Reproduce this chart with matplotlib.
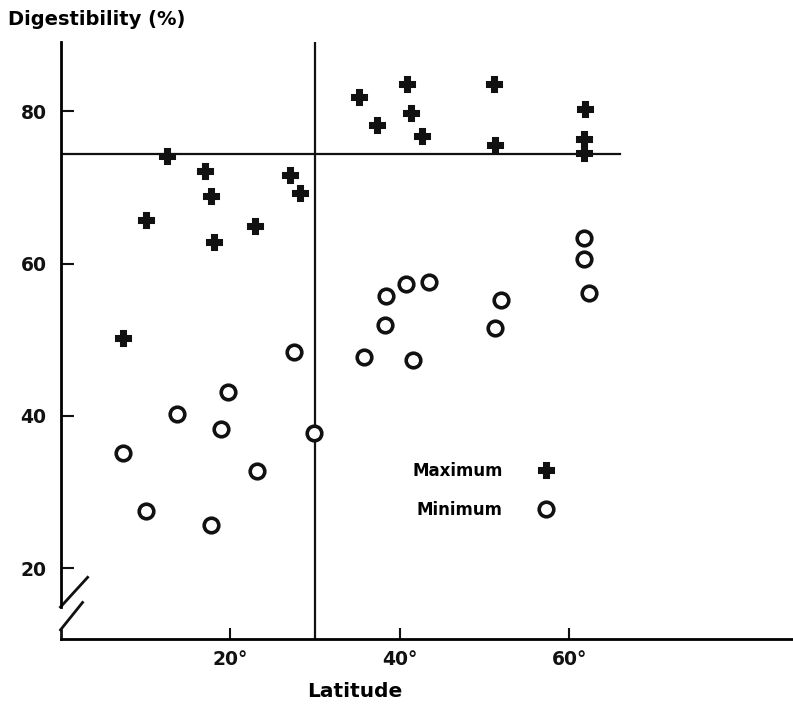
import numpy as np
import matplotlib
matplotlib.use("Agg")
import matplotlib.pyplot as plt

# --- dados ---
# latitude (graus) e digestibilidade (%) - valores máximos
lat_max = [12.6, 17.1, 17.8, 10.1, 18.1, 27.1, 28.3, 23.0, 7.4,
           35.2, 37.3, 40.9, 41.3, 42.6, 51.1, 51.2, 61.9, 61.7, 61.7]
dig_max = [74.1, 72.1, 68.9, 65.7, 62.8, 71.6, 69.3, 64.9, 50.2,
           81.9, 78.2, 83.6, 79.8, 76.7, 83.6, 75.6, 80.3, 76.4, 74.5]

# valores mínimos
lat_min = [27.6, 19.7, 13.7, 18.9, 29.9, 7.4, 23.2, 10.1, 17.8,
           61.7, 61.8, 62.3, 40.7, 43.5, 38.4, 52.0, 38.3, 51.3, 35.8, 41.6]
dig_min = [48.4, 43.1, 40.2, 38.3, 37.7, 35.1, 32.8, 27.5, 25.7,
           63.3, 60.6, 56.1, 57.3, 57.6, 55.8, 55.2, 52.0, 51.5, 47.7, 47.3]

# linhas de referência
lat_ref = 30.0
dig_ref = 74.4
dig_ref_fim = 66.0

x_ticks = [20, 40, 60]
x_labels = ["20°", "40°", "60°"]
y_ticks = [20, 40, 60, 80]

cor = "#111111"
fonte = "DejaVu Sans"

fig = plt.figure(figsize=(7.93, 7.09), dpi=100)
ax = fig.add_axes([0.0763, 0.0987, 0.9237, 0.842])

ax.set_xlim(0, 86.4)
ax.set_ylim(10.7, 89.1)

# linhas divisórias
ax.axvline(lat_ref, color=cor, lw=1.6)
ax.plot([0, dig_ref_fim], [dig_ref, dig_ref], color=cor, lw=1.6)

# pontos
ax.plot(lat_max, dig_max, linestyle="none", marker="P", markersize=9.5,
        color=cor, markeredgecolor=cor, markeredgewidth=2.2,
        label="Maximum")
ax.plot(lat_min, dig_min, linestyle="none", marker="o", markersize=10.5,
        markerfacecolor="white", markeredgecolor=cor, markeredgewidth=2.6,
        label="Minimum")

# eixos: só esquerda (com quebra) e base
for lado in ["top", "right"]:
    ax.spines[lado].set_visible(False)
ax.spines["bottom"].set_linewidth(2)
ax.spines["left"].set_linewidth(2)
ax.spines["left"].set_bounds(14.9, 89.1)

# marca de quebra no eixo y
ax.plot([0, 0], [10.7, 11.9], color=cor, lw=2, clip_on=False)
ax.plot([0, 3.2], [14.9, 18.8], color=cor, lw=2, clip_on=False)
ax.plot([0, 2.6], [11.9, 15.5], color=cor, lw=2, clip_on=False)

ax.set_xticks(x_ticks)
ax.set_xticklabels(x_labels, fontsize=13.5, fontweight="bold", family=fonte)
ax.set_yticks(y_ticks)
ax.set_yticklabels([str(v) for v in y_ticks], fontsize=13.5, fontweight="bold", family=fonte)
ax.tick_params(axis="y", direction="in", length=9, width=1.5, pad=10, colors=cor)
ax.tick_params(axis="x", direction="in", length=8, width=1.5, pad=8, colors=cor)

ax.set_xlabel("Latitude", fontsize=14.5, fontweight="bold", family=fonte)
ax.xaxis.set_label_coords(0.402, -0.072)
fig.text(0.01, 0.972, "Digestibility (%)", fontsize=14, fontweight="bold",
         family=fonte, ha="left", va="center")

leg = ax.legend(loc="upper left", bbox_to_anchor=(0.469, 0.311), frameon=False,
                markerfirst=False, handletextpad=1.6, labelspacing=1.25,
                borderpad=0, prop={"family": fonte, "weight": "bold", "size": 12})

fig.savefig("out.png", dpi=100, facecolor="white")
